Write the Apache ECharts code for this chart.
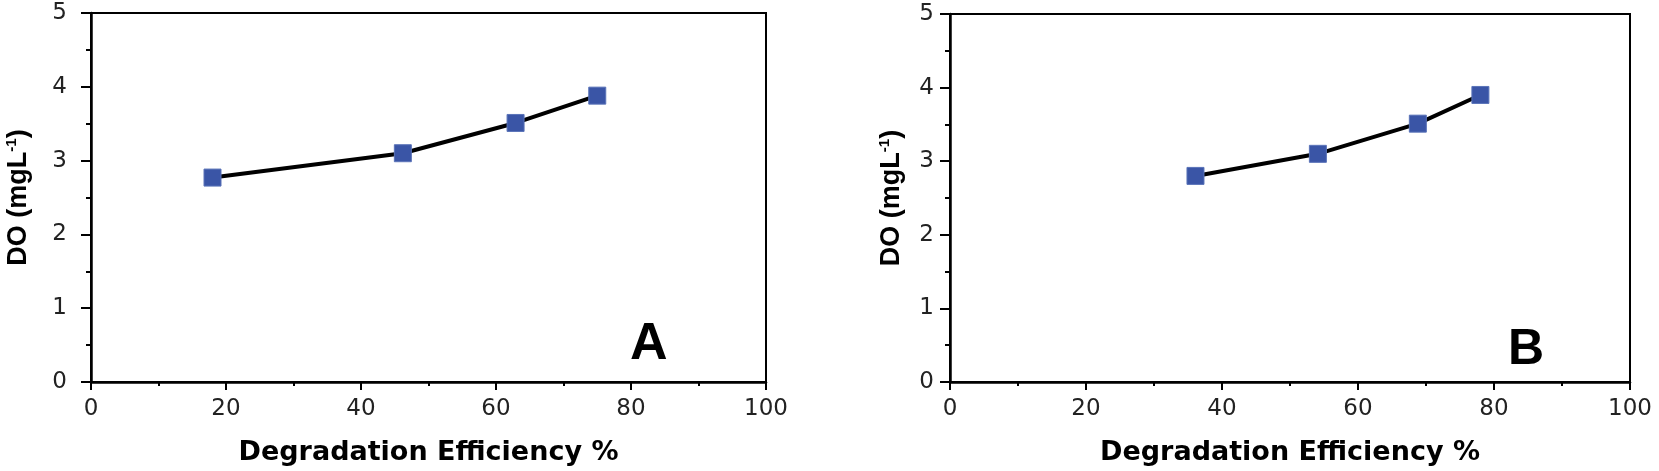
<!DOCTYPE html>
<html>
<head>
<meta charset="utf-8">
<script src="https://cdn.jsdelivr.net/npm/echarts@6/dist/echarts.min.js"></script>
<style>
html,body{margin:0;padding:0;background:#fff;}
#c{width:1659px;height:471px;}
</style>
</head>
<body>
<div id="c"></div>
<script>
// Panel A data
const effA = [18.0, 46.2, 62.9, 75.0];
const doA  = [2.77, 3.10, 3.51, 3.88];
// Panel B data
const effB = [36.1, 54.1, 68.8, 78.0];
const doB  = [2.80, 3.10, 3.51, 3.90];
const panelLabels = ['A', 'B'];
const xTitle = 'Degradation Efficiency %';
const yTitle = '{a|DO (mgL}{s|-1}{a|)}';

const chart = echarts.init(document.getElementById('c'));

function xAxisDef(gi) {
  return {
    gridIndex: gi, type: 'value', min: 0, max: 100, interval: 20,
    name: xTitle, nameLocation: 'middle', nameGap: 57,
    nameTextStyle: {fontFamily: 'DejaVu Sans', fontWeight: 'bold', fontSize: 27, color: '#000'},
    axisLine: {show: true, lineStyle: {color: '#000', width: 2.5}},
    axisTick: {show: true, inside: false, length: 8, lineStyle: {color: '#000', width: 2}},
    minorTick: {show: true, splitNumber: 2, length: 4, lineStyle: {color: '#000', width: 2}},
    splitLine: {show: false}, minorSplitLine: {show: false},
    axisLabel: {margin: 16, fontFamily: 'DejaVu Sans', fontSize: 23, color: '#222'}
  };
}
function yAxisDef(gi, gap, lblMargin) {
  return {
    gridIndex: gi, type: 'value', min: 0, max: 5, interval: 1,
    name: yTitle, nameLocation: 'middle', nameGap: gap, nameRotate: 90,
    nameTextStyle: {
      rich: {
        a: {fontFamily: 'Liberation Sans', fontWeight: 'bold', fontSize: 27, color: '#000', lineHeight: 30},
        s: {fontFamily: 'Liberation Sans', fontWeight: 'bold', fontSize: 15, color: '#000', lineHeight: 30, verticalAlign: 'top'}
      }
    },
    axisLine: {show: true, lineStyle: {color: '#000', width: 2.5}},
    axisTick: {show: true, inside: false, length: 10, lineStyle: {color: '#000', width: 2}},
    minorTick: {show: true, splitNumber: 2, length: 5, lineStyle: {color: '#000', width: 2}},
    splitLine: {show: false}, minorSplitLine: {show: false},
    axisLabel: {margin: lblMargin, fontFamily: 'DejaVu Sans', fontSize: 23, color: '#222'}
  };
}
function seriesDef(gi, xs, ys) {
  return {
    type: 'line', xAxisIndex: gi, yAxisIndex: gi,
    data: xs.map((x, i) => [x, ys[i]]),
    symbol: 'rect', symbolSize: 17,
    itemStyle: {color: '#3a55a6', borderColor: '#5a73b8', borderWidth: 1},
    lineStyle: {color: '#000', width: 4},
    z: 3
  };
}

chart.setOption({
  backgroundColor: '#fff',
  animation: false,
  grid: [
    {left: 91, right: 893, top: 13, bottom: 83, show: true, borderColor: '#000', borderWidth: 2, backgroundColor: 'transparent'},
    {left: 950, right: 29, top: 14, bottom: 88, show: true, borderColor: '#000', borderWidth: 2, backgroundColor: 'transparent'}
  ],
  xAxis: [xAxisDef(0), xAxisDef(1)],
  yAxis: [yAxisDef(0, 57, 24), yAxisDef(1, 43, 16)],
  series: [seriesDef(0, effA, doA), seriesDef(1, effB, doB)],
  graphic: [
    {type: 'text', left: 630, top: 319, style: {text: panelLabels[0], font: 'bold 52px "Liberation Sans"', fill: '#000'}},
    {type: 'text', left: 1508, top: 325, style: {text: panelLabels[1], font: 'bold 50px "Liberation Sans"', fill: '#000'}}
  ]
});
</script>
</body>
</html>
